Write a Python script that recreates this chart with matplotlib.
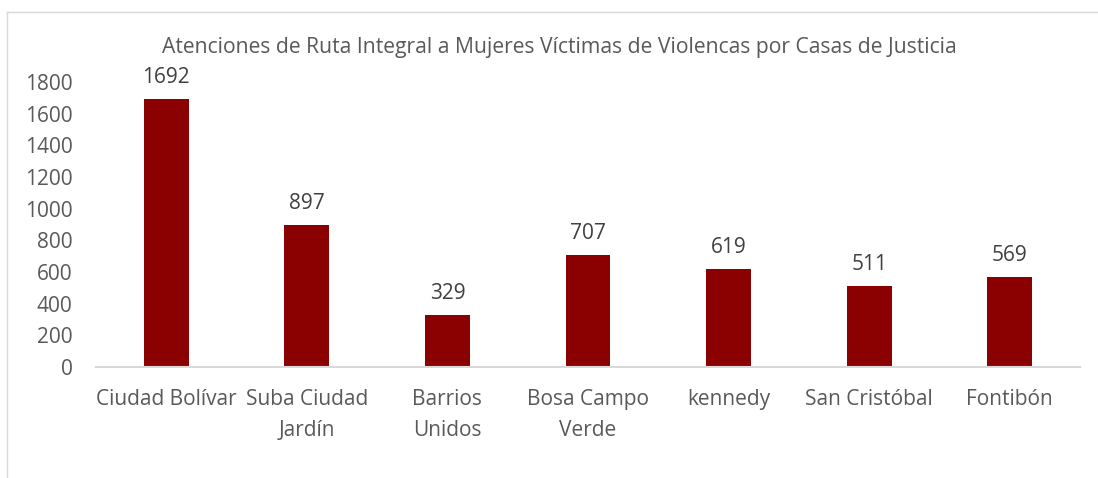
import numpy as np
import matplotlib.pyplot as plt
from matplotlib.lines import Line2D

# data
categorias = ["Ciudad Bolívar", "Suba Ciudad\nJardín", "Barrios\nUnidos",
              "Bosa Campo\nVerde", "kennedy", "San Cristóbal", "Fontibón"]
atenciones = [1692, 897, 329, 707, 619, 511, 569]
y_ticks = [0, 200, 400, 600, 800, 1000, 1200, 1400, 1600, 1800]

titulo = "Atenciones de Ruta Integral a Mujeres Víctimas de Violencas por Casas de Justicia"

plt.rcParams["font.family"] = ["Open Sans", "DejaVu Sans"]
text_color = "#595959"
bar_color = "#8B0000"

fig = plt.figure(figsize=(10.98, 4.78), dpi=100)
ax = fig.add_axes([96 / 1098, 1 - 367 / 478, 984 / 1098, 285 / 478])

x = np.arange(len(categorias))
bars = ax.bar(x, atenciones, width=0.32, color=bar_color, zorder=2)

for b, v in zip(bars, atenciones):
    ax.annotate(str(v), (b.get_x() + b.get_width() / 2, v),
                xytext=(0, 8), textcoords="offset points",
                ha="center", va="bottom", fontsize=15, color="#404040")

ax.set_xlim(-0.5, len(categorias) - 0.5)
ax.set_ylim(0, 1800)
ax.set_yticks(y_ticks)
ax.set_xticks(x)
ax.set_xticklabels(categorias, linespacing=1.6)

ax.tick_params(axis="y", length=0, pad=17, labelsize=15, labelcolor=text_color)
ax.tick_params(axis="x", length=0, pad=16, labelsize=15, labelcolor=text_color)

for s in ["top", "right", "left"]:
    ax.spines[s].set_visible(False)
ax.spines["bottom"].set_color("#d9d9d9")
ax.spines["bottom"].set_linewidth(1.5)

fig.text(559 / 1098, 1 - 47 / 478, titulo, ha="center", va="center",
         fontsize=15.2, color=text_color)

# chart border (cut off on right and bottom)
fig.add_artist(Line2D([7 / 1098, 1.0], [1 - 12 / 478, 1 - 12 / 478],
                      transform=fig.transFigure, color="#d9d9d9", lw=1))
fig.add_artist(Line2D([7 / 1098, 7 / 1098], [0.0, 1 - 12 / 478],
                      transform=fig.transFigure, color="#d9d9d9", lw=1))

fig.savefig("out.png", dpi=100)
